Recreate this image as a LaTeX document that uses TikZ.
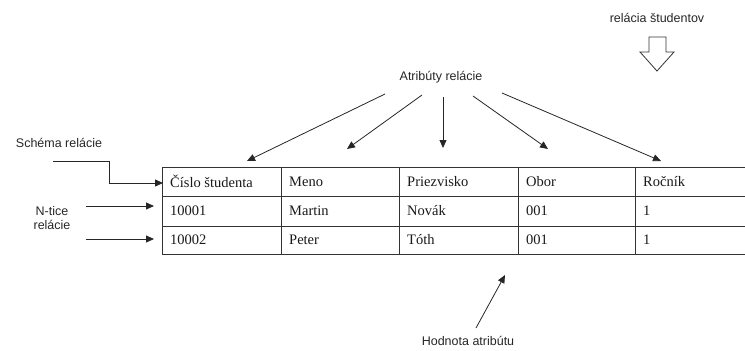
\documentclass[tikz,border=0pt]{standalone}
\usepackage{fontspec}
\newfontfamily\cellfont{Liberation Serif}
\newfontfamily\labelfont{Liberation Sans}
\usetikzlibrary{arrows.meta}
\begin{document}
\begin{tikzpicture}[x=1pt,y=-1pt,
  grid/.style={draw=black!80,line width=0.9pt},
  cell/.style={anchor=west,inner sep=0pt,font=\cellfont\fontsize{14.5}{16}\selectfont,text=black!90},
  lbl/.style={inner sep=0pt,font=\labelfont\fontsize{12.5}{15}\selectfont,text=black!85},
  arr/.style={draw=black!85,line width=0.8pt,-{Triangle[length=8pt,width=7pt]}}]
\useasboundingbox (0,0) rectangle (745,351);

% relation table
\draw[grid] (162,167) rectangle (747,254);
\foreach \yy in {196,226} \draw[grid] (162,\yy) -- (747,\yy);
\foreach \xx in {281,399,518,635} \draw[grid] (\xx,167) -- (\xx,254);

% header row
\node[cell] (h1) at (170,181.5) {Číslo študenta};
\node[cell] (h2) at (289,181.5) {Meno};
\node[cell] (h3) at (407,181.5) {Priezvisko};
\node[cell] (h4) at (526,181.5) {Obor};
\node[cell] (h5) at (643,181.5) {Ročník};
% tuples
\node[cell] (r11) at (170,211) {10001};
\node[cell] (r12) at (289,211) {Martin};
\node[cell] (r13) at (407,211) {Novák};
\node[cell] (r14) at (526,211) {001};
\node[cell] (r15) at (643,211) {1};
\node[cell] (r21) at (170,240) {10002};
\node[cell] (r22) at (289,240) {Peter};
\node[cell] (r23) at (407,240) {Tóth};
\node[cell] (r24) at (526,240) {001};
\node[cell] (r25) at (643,240) {1};

% labels
\node[lbl] (attr) at (441,77) {Atribúty relácie};
\node[lbl] (schema) at (59,143) {Schéma relácie};
\node[lbl,align=center] (ntice) at (52,218) {N-tice\\[-1pt]relácie};
\node[lbl] (value) at (468,341) {Hodnota atribútu};
\node[lbl] (rel) at (657,18) {relácia študentov};

% attribute arrows
\coordinate (s1) at (385,94);  \coordinate (t1) at (247,161);
\coordinate (s2) at (422,95);  \coordinate (t2) at (347,149);
\coordinate (s3) at (443,97);  \coordinate (t3) at (443,148);
\coordinate (s4) at (473,96);  \coordinate (t4) at (548,149);
\coordinate (s5) at (502,93);  \coordinate (t5) at (661,161);
\foreach \i in {1,...,5} \draw[arr] (s\i) -- (t\i);

% schema arrow
\coordinate (sc0) at (53,161);
\coordinate (sc1) at (109,161);
\coordinate (sc2) at (163,183);
\draw[arr] (sc0) -- (sc1) |- (sc2);

% tuple arrows
\coordinate (n1a) at (86,206); \coordinate (n1b) at (154,206);
\coordinate (n2a) at (86,239); \coordinate (n2b) at (154,239);
\draw[arr] (n1a) -- (n1b);
\draw[arr] (n2a) -- (n2b);

% value arrow
\coordinate (v0) at (476,328); \coordinate (v1) at (505,275);
\draw[arr] (v0) -- (v1);

% hollow block arrow below the relation name
\draw[draw=black!80,line width=0.8pt,fill=white,line join=miter]
  (649,37) -- (666,37) -- (666,52) -- (674,52) -- (657,71) -- (640,52) -- (649,52) -- cycle;
\end{tikzpicture}
\end{document}
